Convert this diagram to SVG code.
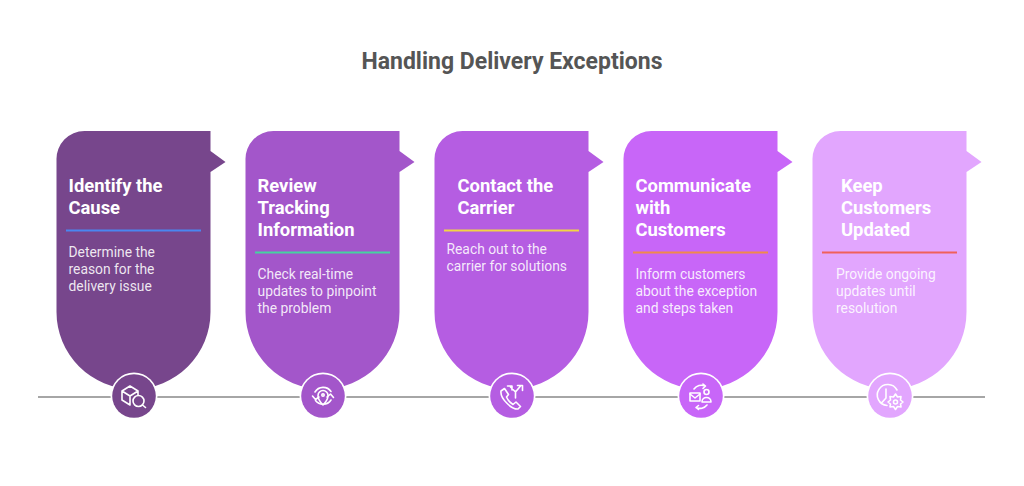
<svg xmlns="http://www.w3.org/2000/svg" width="1024" height="486" viewBox="0 0 1024 486">
<style>
text{font-family:Roboto,"Liberation Sans",sans-serif}
.title{font-size:23px;font-weight:700;fill:#555}
.h{font-size:18.4px;font-weight:700;fill:#fff}
.d{font-size:13.85px;fill:#fff;fill-opacity:.88}
.i{fill:none;stroke:#fff;stroke-width:1.6;stroke-linecap:round;stroke-linejoin:round}
.rule{stroke-width:2}
</style>
<defs>
<path id="card" d="M0 29A28 28 0 0 1 28 0H154V20L169 31L154 41V181A77 77 0 0 1 0 181Z"/>
</defs>
<rect width="1024" height="486" fill="#fff"/>
<text class="title" x="512" y="69" text-anchor="middle">Handling Delivery Exceptions</text>
<g id="connectors"><path d="M38 397H985" stroke="#a6a6a6" stroke-width="2" fill="none"/></g>

<g id="node-1">
<use href="#card" x="56.500" y="131" fill="#77468c"/>
<text class="h" x="68.500" y="192">Identify the</text><text class="h" x="68.500" y="214">Cause</text>
<path class="rule" d="M66 230.500H201" stroke="#4a86f0"/>
<text class="d" x="68.500" y="257">Determine the</text><text class="d" x="68.500" y="274">reason for the</text><text class="d" x="68.500" y="291">delivery issue</text>
<circle cx="134" cy="396" r="23.500" fill="#fff"/><circle cx="134" cy="396" r="21.800" fill="#77468c"/>
<g class="i"><path d="M122 391L130 386L138 391V395M122 391V400L130 405M122 391L130 396L138 391M130 396V405"/><circle cx="138.500" cy="401" r="5.500"/><path d="M142.500 405L145.500 407.500"/></g>
</g>

<g id="node-2">
<use href="#card" x="245.500" y="131" fill="#a356ca"/>
<text class="h" x="257.500" y="192">Review</text><text class="h" x="257.500" y="214">Tracking</text><text class="h" x="257.500" y="236">Information</text>
<path class="rule" d="M255 252.500H390" stroke="#45d3a0"/>
<text class="d" x="257.500" y="279">Check real-time</text><text class="d" x="257.500" y="296">updates to pinpoint</text><text class="d" x="257.500" y="313">the problem</text>
<circle cx="323" cy="396" r="23.500" fill="#fff"/><circle cx="323" cy="396" r="21.800" fill="#a356ca"/>
<g class="i"><path d="M323 405C319.500 401.500 318 399 318 395.500A5 5 0 0 1 328 395.500C328 399 326.500 401.500 323 405Z"/><circle cx="323" cy="395" r="1.200"/><path d="M315 392A9.500 9.500 0 0 1 331 391.500M331 400A9.500 9.500 0 0 1 315.500 400.500M312.500 396L315.500 399.500L319 397M327 397L330.500 394L333.500 397.500"/></g>
</g>

<g id="node-3">
<use href="#card" x="434.500" y="131" fill="#b55de2"/>
<text class="h" x="457.500" y="192">Contact the</text><text class="h" x="457.500" y="214">Carrier</text>
<path class="rule" d="M444 230.500H579" stroke="#f2d544"/>
<text class="d" x="446.500" y="254">Reach out to the</text><text class="d" x="446.500" y="271">carrier for solutions</text>
<circle cx="512" cy="396" r="23.500" fill="#fff"/><circle cx="512" cy="396" r="21.800" fill="#b55de2"/>
<g class="i"><path d="M501 391L504.500 388.500L508.500 394.500L506.500 397C508 400.500 510.500 403 513 404.500L516 402L520.500 406.500L518 409C511 409.500 500 398 501 391Z"/><path d="M515.500 398V391M515.500 392L510.500 387M515.500 392L520.500 386M507.500 386H512V390M517.500 385.500H522.500V390.500"/></g>
</g>

<g id="node-4">
<use href="#card" x="623.500" y="131" fill="#c866f8"/>
<text class="h" x="635.500" y="192">Communicate</text><text class="h" x="635.500" y="214">with</text><text class="h" x="635.500" y="236">Customers</text>
<path class="rule" d="M633 252.500H768" stroke="#f08a4a"/>
<text class="d" x="635.500" y="279">Inform customers</text><text class="d" x="635.500" y="296">about the exception</text><text class="d" x="635.500" y="313">and steps taken</text>
<circle cx="701" cy="396" r="23.500" fill="#fff"/><circle cx="701" cy="396" r="21.800" fill="#c866f8"/>
<g class="i"><rect x="690" y="393" width="10" height="8"/><path d="M690 394L695 398L700 394"/><circle cx="706.500" cy="392" r="2.500"/><path d="M702 402C702 396 711 396 711 402Z"/><path d="M694 389A9 9 0 0 1 705 386M703 384L705.500 386L703 388.500M707 405A9 9 0 0 1 696 407.500M698.500 405.500L696 407.500L698.500 409.500"/></g>
</g>

<g id="node-5">
<use href="#card" x="812.500" y="131" fill="#e2a6fe"/>
<text class="h" x="841" y="192">Keep</text><text class="h" x="841" y="214">Customers</text><text class="h" x="841" y="236">Updated</text>
<path class="rule" d="M822 252.500H957" stroke="#f0605a"/>
<text class="d" x="836" y="279">Provide ongoing</text><text class="d" x="836" y="296">updates until</text><text class="d" x="836" y="313">resolution</text>
<circle cx="890" cy="396" r="23.500" fill="#fff"/><circle cx="890" cy="396" r="21.800" fill="#e2a6fe"/>
<g class="i"><path d="M887 405.500A10.500 10.500 0 1 1 897 390M886 389V398L881.500 403"/><circle cx="895.500" cy="402" r="2"/><path d="M895.500 394L897.500 397L901 396.500L900.500 400L903 402L900.500 404L901 407L897.500 406.500L895.500 409.500L893.500 406.500L890 407L890.500 404L888 402L890.500 400L890 396.500L893.500 397Z"/></g>
</g>
</svg>
